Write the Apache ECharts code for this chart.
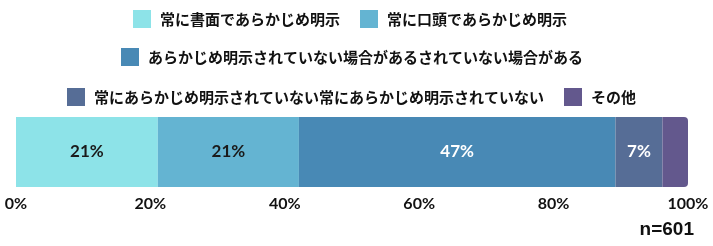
<!DOCTYPE html>
<html>
<head>
<meta charset="utf-8">
<script src="https://cdn.jsdelivr.net/npm/echarts@6/dist/echarts.min.js"></script>
<style>
html,body{margin:0;padding:0;background:#fff;}
#chart{width:713px;height:246px;}
</style>
</head>
<body>
<div id="chart"></div>
<script>
var seriesNames = [
  '常に書面であらかじめ明示',
  '常に口頭であらかじめ明示',
  'あらかじめ明示されていない場合があるされていない場合がある',
  '常にあらかじめ明示されていない常にあらかじめ明示されていない',
  'その他'
];
var seriesValues = [21.1, 21.0, 47.1, 7.0, 3.8];
var seriesColors = ['#8de3e8', '#64b4d2', '#4889b5', '#566d96', '#63588d'];
var labelColors = ['#1a1a1a', '#1a1a1a', '#ffffff', '#ffffff', '#ffffff'];
var showLabel = [true, true, true, true, false];
var categories = ['全体'];
var tickValues = [0, 20, 40, 60, 80, 100];
var sampleNote = 'n=601';

var FONT = 'Lato, "Noto Sans CJK JP", sans-serif';
var legendText = {fontSize: 15, fontWeight: 'bold', color: '#111', fontFamily: '"Noto Sans CJK JP", sans-serif', padding: [0, 0, 0, 4]};

function legendRow(names, left, top) {
  return {
    data: names, left: left, top: top, orient: 'horizontal',
    icon: 'rect', itemWidth: 18, itemHeight: 18, itemGap: 20, padding: 0,
    selectedMode: false, textStyle: legendText
  };
}

var series = seriesNames.map(function (name, i) {
  var last = i === seriesNames.length - 1;
  return {
    name: name, type: 'bar', stack: 'total', barWidth: 70,
    itemStyle: {color: seriesColors[i], borderRadius: last ? [0, 4, 4, 0] : 0},
    label: {
      show: showLabel[i], position: 'inside',
      color: labelColors[i], fontSize: 17, fontWeight: 'bold', fontFamily: FONT,
      formatter: function (p) { return Math.round(p.value) + '%'; }
    },
    data: [seriesValues[i]]
  };
});

var chart = echarts.init(document.getElementById('chart'));
chart.setOption({
  animation: false,
  legend: [
    legendRow(seriesNames.slice(0, 2), 133, 10),
    legendRow(seriesNames.slice(2, 3), 121, 48),
    legendRow(seriesNames.slice(3, 5), 67, 88)
  ],
  grid: {left: 16, right: 25, top: 117, height: 70},
  xAxis: {
    type: 'value', min: tickValues[0], max: tickValues[tickValues.length - 1], interval: 20,
    axisLine: {show: false}, axisTick: {show: false}, splitLine: {show: false},
    axisLabel: {formatter: '{value}%', fontSize: 16, fontWeight: 'bold', color: '#111', fontFamily: FONT, margin: 9}
  },
  yAxis: {type: 'category', data: categories, show: false},
  graphic: [{
    type: 'text', right: 19, top: 220,
    style: {text: sampleNote, fontSize: 19, fontWeight: 'bold', fill: '#111', font: 'bold 19px ' + FONT}
  }],
  series: series
});
</script>
</body>
</html>
